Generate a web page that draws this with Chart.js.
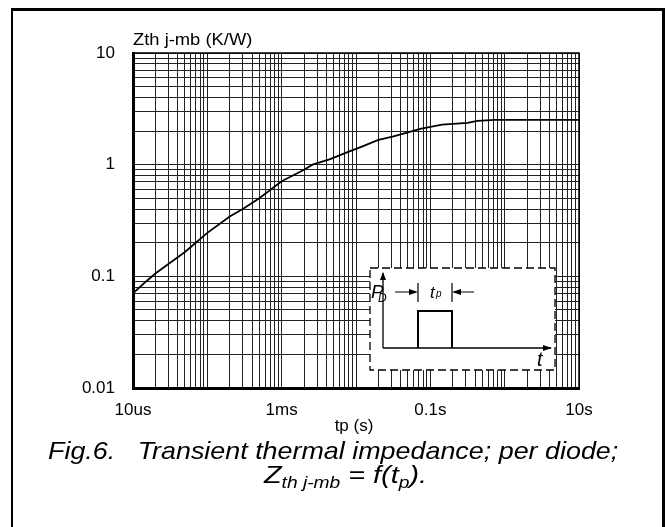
<!DOCTYPE html>
<html>
<head>
<meta charset="utf-8">
<script src="https://cdn.jsdelivr.net/npm/chart.js@4.4.0/dist/chart.umd.min.js"></script>
<style>
body { margin: 0; background: #fff; font-family: "Liberation Sans", Arial, sans-serif; }
#wrap { position: relative; width: 665px; height: 527px; overflow: hidden; }
#frame { position: absolute; left: 11px; top: 8px; width: 649px; height: 560px; border-left: 2px solid #000; border-top: 3px solid #000; border-right: 3px solid #000; }
canvas { position: absolute; left: 0; top: 0; }
.ytitle { position: absolute; left: 133px; top: 30px; font-size: 17px; color: #000; transform: scaleX(1.08); transform-origin: left; white-space: nowrap; }
.cap1 { position: absolute; left: 48px; top: 437px; font-size: 24px; font-style: italic; white-space: pre; transform: scaleX(1.12); transform-origin: left; }
.cap2 { position: absolute; left: 264px; top: 461px; font-size: 24px; font-style: italic; white-space: pre; transform: scaleX(1.2); transform-origin: left; }
.cap2 sub { font-size: 16px; vertical-align: -5px; line-height: 0; }
</style>
</head>
<body>
<div id="wrap">
  <div id="frame"></div>
  <canvas id="thermalChart" width="665" height="527"></canvas>
  <div class="ytitle">Zth j-mb (K/W)</div>
  <div class="cap1">Fig.6.   Transient thermal impedance; per diode;</div>
  <div class="cap2">Z<sub>th j-mb</sub> = f(t<sub>p</sub>).</div>
</div>
<script>
// pulse time (s) and thermal impedance (K/W)
const tpValues = [1e-5, 1.5e-5, 2e-5, 5e-5, 1e-4, 2e-4, 3e-4, 5e-4, 1e-3, 2e-3, 2.6e-3, 4.5e-3, 8e-3, 1.2e-2, 2e-2, 3.1e-2, 5e-2, 7.3e-2, 0.144, 0.316, 0.43, 0.74, 10];
const zthValues = [0.0705, 0.09, 0.106, 0.165, 0.245, 0.343, 0.40, 0.50, 0.71, 0.90, 1.0, 1.12, 1.31, 1.45, 1.67, 1.78, 1.95, 2.09, 2.28, 2.37, 2.47, 2.52, 2.52];

const xTickValues = [1e-5, 1e-3, 1e-1, 10];
const xTickLabels = ['10us', '1ms', '0.1s', '10s'];
const yTickValues = [0.01, 0.1, 1, 10];
const yTickLabels = ['0.01', '0.1', '1', '10'];
const gridSteps = [1, 2, 3, 4, 5, 6, 7, 8, 9];

const fontFamily = '"Liberation Sans", Arial, sans-serif';

function logGrid(min, max) {
    const ticks = [];
    for (let e = Math.round(Math.log10(min)); e < Math.round(Math.log10(max)); e++) {
        gridSteps.forEach(s => ticks.push({ value: s * Math.pow(10, e) }));
    }
    ticks.push({ value: max });
    return ticks;
}

function labelFor(value, values, labels) {
    const i = values.findIndex(v => Math.abs(Math.log10(v) - Math.log10(value)) < 1e-6);
    return i >= 0 ? labels[i] : '';
}

function arrowHead(ctx, x, y, dir) {
    // dir: 'up', 'right', 'left'
    ctx.beginPath();
    if (dir === 'up') { ctx.moveTo(x, y); ctx.lineTo(x - 3, y + 8); ctx.lineTo(x + 3, y + 8); }
    if (dir === 'right') { ctx.moveTo(x, y); ctx.lineTo(x - 9, y - 3); ctx.lineTo(x - 9, y + 3); }
    if (dir === 'left') { ctx.moveTo(x, y); ctx.lineTo(x + 9, y - 3); ctx.lineTo(x + 9, y + 3); }
    ctx.closePath();
    ctx.fill();
}

const insetPlugin = {
    id: 'inset',
    afterDatasetsDraw(chart) {
        const ctx = chart.ctx;
        const ca = chart.chartArea;
        const left = ca.left + 237, top = ca.top + 215, right = ca.left + 422, bottom = ca.top + 317;
        ctx.save();
        ctx.fillStyle = '#fff';
        ctx.fillRect(left, top, right - left, bottom - top);
        ctx.strokeStyle = '#000';
        ctx.lineWidth = 1.3;
        ctx.setLineDash([8, 4]);
        ctx.strokeRect(left, top, right - left, bottom - top);
        ctx.setLineDash([]);

        const ox = left + 13, oy = top + 80;
        ctx.fillStyle = '#000';
        ctx.lineWidth = 1.3;
        // axes
        ctx.beginPath();
        ctx.moveTo(ox, oy); ctx.lineTo(ox, top + 5);
        ctx.moveTo(ox, oy); ctx.lineTo(right - 4, oy);
        ctx.stroke();
        arrowHead(ctx, ox, top + 4, 'up');
        arrowHead(ctx, right - 3, oy, 'right');

        // pulse
        const p1 = left + 48, p2 = left + 82, ph = top + 43;
        ctx.lineWidth = 2;
        ctx.beginPath();
        ctx.moveTo(p1, oy); ctx.lineTo(p1, ph); ctx.lineTo(p2, ph); ctx.lineTo(p2, oy);
        ctx.stroke();

        // tp markers
        ctx.lineWidth = 1.2;
        ctx.beginPath();
        ctx.moveTo(p1, top + 15); ctx.lineTo(p1, top + 34);
        ctx.moveTo(p2, top + 15); ctx.lineTo(p2, top + 34);
        ctx.moveTo(left + 25, top + 24); ctx.lineTo(p1 - 2, top + 24);
        ctx.moveTo(left + 104, top + 24); ctx.lineTo(p2 + 2, top + 24);
        ctx.stroke();
        arrowHead(ctx, p1, top + 24, 'right');
        arrowHead(ctx, p2, top + 24, 'left');

        // labels
        ctx.textBaseline = 'alphabetic';
        ctx.font = 'italic 19px ' + fontFamily;
        ctx.fillText('P', left + 1, top + 30);
        ctx.font = 'italic 12px ' + fontFamily;
        ctx.fillText('D', left + 8, top + 34);
        ctx.font = 'italic 17px ' + fontFamily;
        ctx.fillText('t', p1 + 12, top + 30);
        ctx.font = 'italic 10px ' + fontFamily;
        ctx.fillText('p', p1 + 18, top + 29);
        ctx.font = 'italic 20px ' + fontFamily;
        ctx.fillText('t', right - 18, top + 98);
        ctx.restore();
    }
};

const edgePlugin = {
    id: 'edges',
    afterDraw(chart) {
        const ctx = chart.ctx;
        const ca = chart.chartArea;
        ctx.save();
        ctx.strokeStyle = '#000';
        ctx.lineWidth = 1.5;
        ctx.beginPath();
        ctx.moveTo(ca.left, ca.top); ctx.lineTo(ca.right, ca.top); ctx.lineTo(ca.right, ca.bottom);
        ctx.stroke();
        ctx.restore();
    }
};

const tickFont = { family: fontFamily, size: 17 };

const chartData = {
    datasets: [{
        data: tpValues.map((x, i) => ({ x: x, y: zthValues[i] })),
        borderColor: '#000',
        borderWidth: 1.8,
        pointRadius: 0,
        tension: 0,
        fill: false
    }]
};

const chartConfig = {
    type: 'line',
    data: chartData,
    options: {
        responsive: false,
        animation: false,
        layout: { padding: { left: 0, right: 86, top: 53, bottom: 109 } },
        plugins: { legend: { display: false }, tooltip: { enabled: false } },
        scales: {
            x: {
                type: 'logarithmic',
                min: 1e-5,
                max: 10,
                afterBuildTicks: s => { s.ticks = logGrid(1e-5, 10); },
                afterFit: s => { s.height = 30; },
                grid: { color: '#222', lineWidth: 1, drawTicks: false },
                border: { display: true, color: '#000', width: 3 },
                ticks: {
                    autoSkip: false, maxRotation: 0, padding: 12, color: '#000', font: tickFont,
                    callback: v => labelFor(v, xTickValues, xTickLabels)
                }
            },
            y: {
                type: 'logarithmic',
                min: 0.01,
                max: 10,
                afterBuildTicks: s => { s.ticks = logGrid(0.01, 10); },
                afterFit: s => { s.width = 133; },
                grid: { color: '#222', lineWidth: 1, drawTicks: false },
                border: { display: true, color: '#000', width: 3 },
                ticks: {
                    autoSkip: false, padding: 18, color: '#000', font: tickFont,
                    callback: v => labelFor(v, yTickValues, yTickLabels)
                }
            }
        }
    },
    plugins: [insetPlugin, edgePlugin, {
        id: 'xTitle',
        afterDraw(chart) {
            const ctx = chart.ctx;
            ctx.save();
            ctx.fillStyle = '#000';
            ctx.font = '17px ' + fontFamily;
            ctx.textAlign = 'center';
            ctx.textBaseline = 'middle';
            ctx.fillText('tp (s)', 354, 426);
            ctx.restore();
        }
    }]
};

const ctx = document.getElementById('thermalChart').getContext('2d');
new Chart(ctx, chartConfig);
</script>
</body>
</html>
